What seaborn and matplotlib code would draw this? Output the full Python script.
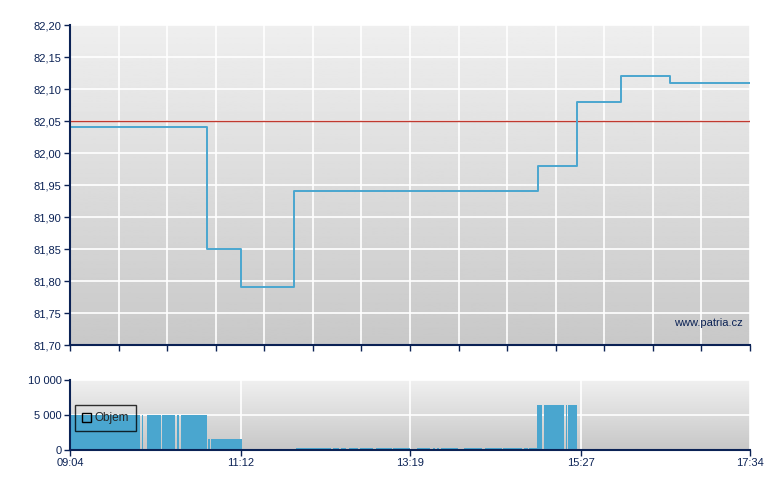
import numpy as np
import matplotlib
matplotlib.use("Agg")
import matplotlib.pyplot as plt
from matplotlib.patches import Patch
import seaborn as sns

# price steps (time of change, price)
price_times = ["09:04", "10:47", "11:12", "11:52", "14:55", "15:24", "15:57", "16:34", "17:34"]
prices = [82.04, 81.85, 81.79, 81.94, 81.98, 82.08, 82.12, 82.11, 82.11]
ref_price = 82.05

# volume blocks: minutes after 09:04 (start, end) and volume
vol_start = [0, 23.5, 49, 54, 57.8, 68.8, 80, 83.3,
             103.5, 105.5, 108.3,
             128.8, 133.5, 140, 161.5,
             169.5, 197.5, 203, 209, 217.5, 229.5, 242.5, 260, 272, 275, 278, 295.5, 311.3, 325, 340.5, 344.2,
             350.25, 355.5, 371.8, 373.5,
             380.25, 403.3, 413.3, 425.8, 430.8, 444.5, 458.3, 473.3, 480.8, 489.5]
vol_end = [23.0, 48.5, 52.5, 55, 68, 78.7, 82, 102.75,
           104.7, 107.8, 128.8,
           132.5, 138.5, 160, 169.5,
           196, 201.8, 207, 216, 227, 241.3, 255, 270, 274, 277, 291, 308.8, 323.8, 338.8, 343.3, 350.25,
           354, 370.5, 372.8, 380.25,
           402.5, 412.5, 425, 430, 443.75, 457.5, 472.5, 480, 488.75, 510]
vol_size = [5000] * 8 + [1600] * 3 + [130] * 4 + [300] * 16 + [6400] * 4 + [70] * 10

tick_labels = ["09:04", "11:12", "13:19", "15:27", "17:34"]


def to_min(t):
    h, m = t.split(":")
    return (int(h) - 9) * 60 + int(m) - 4


sns.set_style("white")
plt.rcParams["font.family"] = ["Liberation Sans", "DejaVu Sans"]

navy = "#0b2255"
blue = "#4aa6cf"

fig = plt.figure(figsize=(7.8, 4.9), dpi=100)
ax = fig.add_axes([70 / 780, 145 / 490, 680 / 780, 320 / 490])
axv = fig.add_axes([70 / 780, 40 / 490, 680 / 780, 70 / 490])

# gradient backgrounds
grad = np.linspace(0, 1, 256).reshape(-1, 1)
for a, top, bot in [(ax, 0.935, 0.785), (axv, 0.94, 0.78)]:
    a.imshow(top + (bot - top) * grad, cmap="gray", vmin=0, vmax=1, aspect="auto",
             extent=[0, 1, 0, 1], transform=a.transAxes, zorder=0)

# price panel
x_price = [to_min(t) for t in price_times]
sns.lineplot(x=x_price, y=prices, drawstyle="steps-post", color=blue, lw=1.4, ax=ax, zorder=4)
ax.axhline(ref_price, color="#c0392f", lw=1, zorder=3.5)
ax.set_xlim(0, 510)
ax.set_ylim(81.70, 82.20)
ax.set_xticks(np.linspace(0, 510, 15))
ax.set_xticklabels([])
yt = np.arange(81.70, 82.201, 0.05)
ax.set_yticks(yt)
ax.set_yticklabels([f"{v:.2f}".replace(".", ",") for v in yt])
ax.grid(True, color="white", lw=1.2, zorder=1)
ax.set_axisbelow(False)
ax.text(0.99, 0.07, "www.patria.cz", transform=ax.transAxes, ha="right", va="center",
        color=navy, fontsize=8)

# volume panel
axv.bar(vol_start, vol_size, width=np.subtract(vol_end, vol_start),
        align="edge", color=blue, lw=0, zorder=3)
axv.set_xlim(0, 510)
axv.set_ylim(0, 10000)
axv.set_xticks([to_min(t) for t in tick_labels])
axv.set_xticklabels(tick_labels)
axv.set_yticks([0, 5000, 10000])
axv.set_yticklabels(["0", "5 000", "10 000"])
axv.grid(True, color="white", lw=1.2, zorder=1)
leg = axv.legend(handles=[Patch(facecolor="none", edgecolor="black", label="Objem")],
                 loc="upper left", bbox_to_anchor=(0.007, 0.64), frameon=True, fancybox=False,
                 fontsize=8.5, handlelength=0.8, handleheight=0.8, handletextpad=0.3,
                 borderpad=0.6, borderaxespad=0)
leg.get_frame().set_edgecolor("black")
leg.get_frame().set_facecolor("none")
leg.get_frame().set_linewidth(1)

for a in (ax, axv):
    for s in ("top", "right"):
        a.spines[s].set_visible(False)
    for s in ("left", "bottom"):
        a.spines[s].set_color(navy)
        a.spines[s].set_linewidth(1.5)
        a.spines[s].set_zorder(5)
    a.tick_params(colors=navy, labelcolor=navy, labelsize=8, length=4, width=1,
                  direction="out", left=True, bottom=True, pad=2)

fig.savefig("out.png", dpi=100)
